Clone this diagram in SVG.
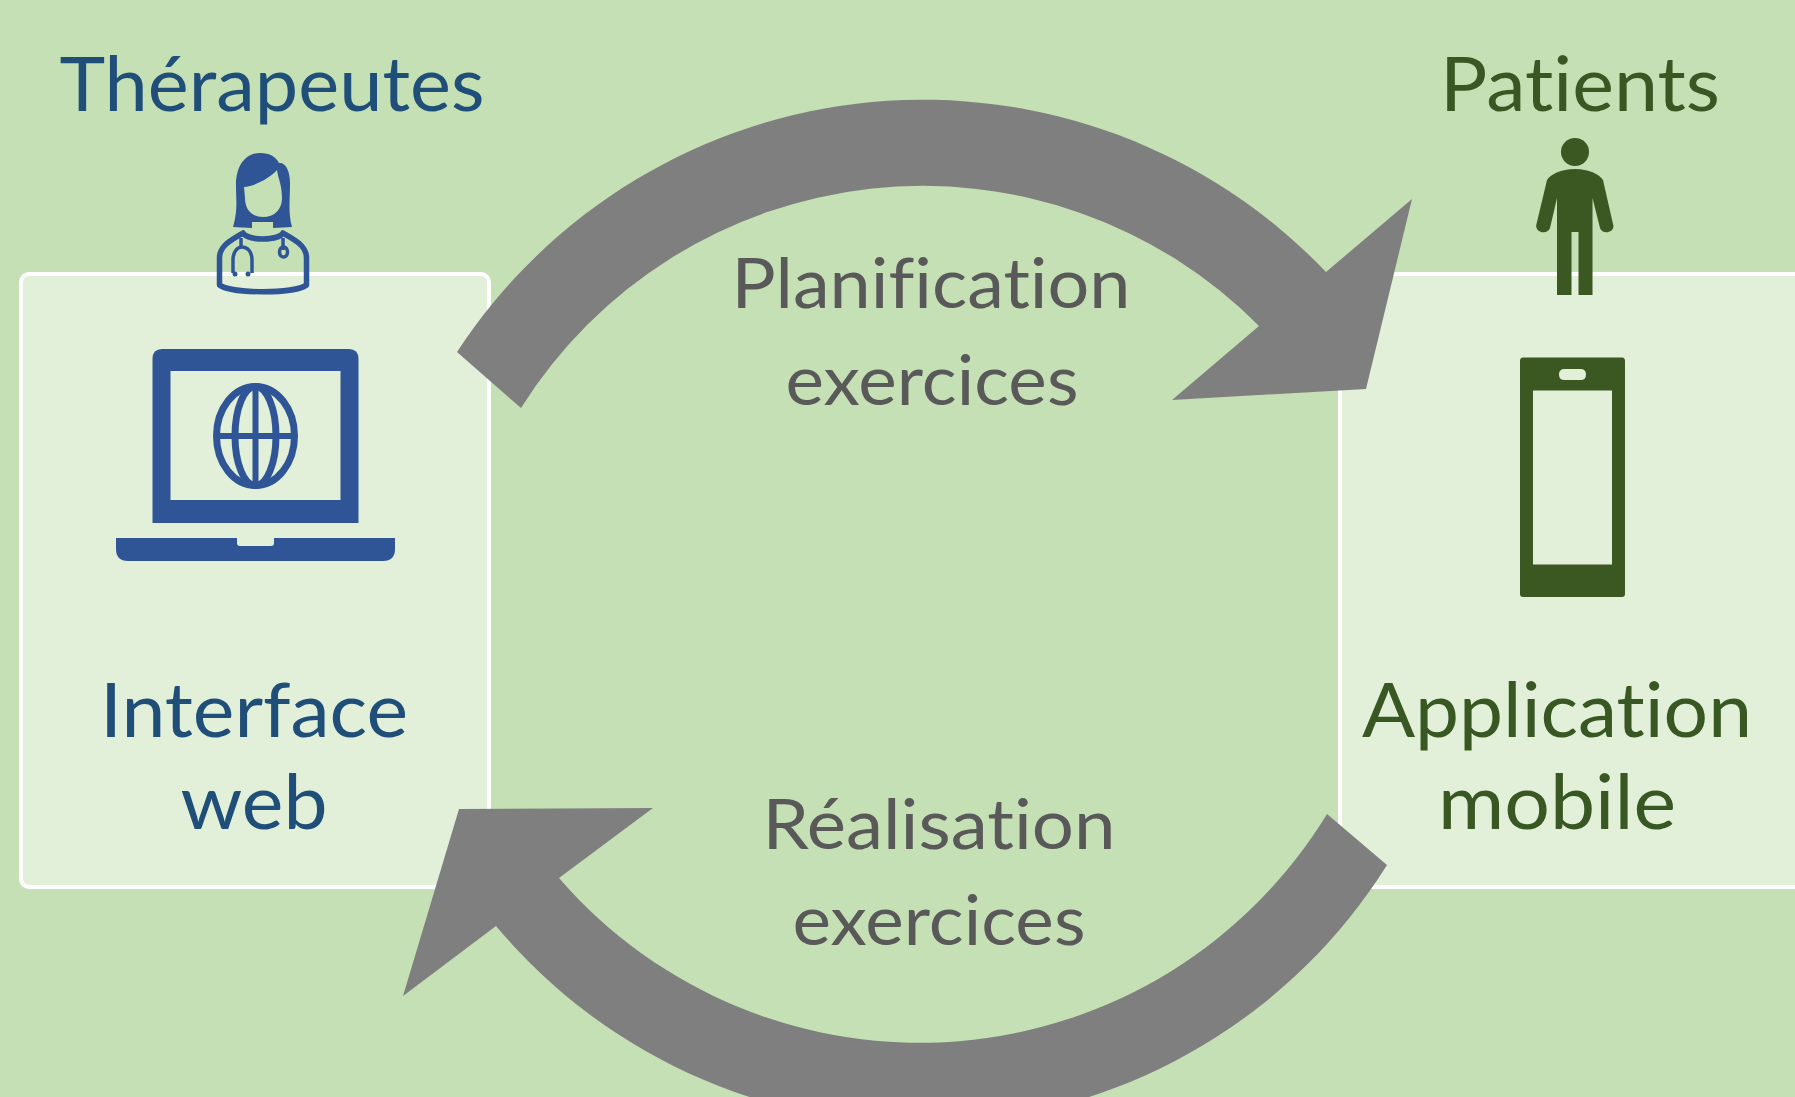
<svg xmlns="http://www.w3.org/2000/svg" width="1795" height="1097" viewBox="0 0 1795 1097">
<style>
.box{fill:#E2F0D9;stroke:#fff;stroke-width:4}
.blue{fill:#2F5597}
.green{fill:#3B5722}
.arrow{fill:#7F7F7F}
text{font-family:"Lato","Liberation Sans",sans-serif;text-anchor:middle;font-variant-ligatures:none;font-feature-settings:"liga" 0,"dlig" 0}
.tb{fill:#1F4E79;font-size:76px}
.tg{fill:#385723;font-size:76px}
.tc{fill:#595959;font-size:70px}
</style>
<rect width="1795" height="1097" fill="#C5E0B4"/>
<g id="therapist-panel">
<rect class="box" x="21" y="274" width="468" height="613" rx="8"/>
<text class="tb" x="272" y="111" textLength="425" lengthAdjust="spacingAndGlyphs">Thérapeutes</text>
<text class="tb" x="254" y="737" textLength="308" lengthAdjust="spacingAndGlyphs">Interface</text>
<text class="tb" x="254" y="829" textLength="147" lengthAdjust="spacingAndGlyphs">web</text>
<g id="doctor">
<path class="blue" fill-rule="evenodd" d="M236 185C236 165 246 153 260 153C270 153 276 157 279 163C285 162 290 170 290 183C290 200 288 213 292 227L273 228L273 222L252 222L252 228L233 227C238 210 236 200 236 185ZM244 187C255 186 270 178 277 170C278 178 282 185 282 198C282 210 274 217 263 217C252 217 245 210 245 198Z"/>
<path d="M219.500 285V258C219.500 245 232 240 243 233C248 241 278 241 283 233C294 240 306.500 245 306.500 258V285C295 294 231 294 219.500 285Z" fill="none" stroke="#2F5597" stroke-width="5.500" stroke-linejoin="round"/>
<path d="M241 238V248M233 273V260C233 251 238 247 242 247C247 247 252 251 252 260V273M283 238V250" fill="none" stroke="#2F5597" stroke-width="3.500"/>
<circle cx="235" cy="274" r="2.500" class="blue"/><circle cx="248" cy="274" r="2.500" class="blue"/>
<ellipse cx="283.500" cy="252" rx="4" ry="5" fill="none" stroke="#2F5597" stroke-width="3.500"/>
</g>
<g id="laptop">
<path class="blue" fill-rule="evenodd" d="M162 349H349Q358.500 349 358.500 359V523H152.500V359Q152.500 349 162 349ZM170.500 371V500H340.500V371Z"/>
<path class="blue" d="M116 538H237V543Q237 546 240 546H271Q274 546 274 543V538H395V549Q395 561 383 561H128Q116 561 116 549Z"/>
<g fill="none" stroke="#2F5597" stroke-width="7">
<ellipse cx="255.500" cy="436" rx="39" ry="49.500"/>
<ellipse cx="255.500" cy="436" rx="20.500" ry="49.500"/>
</g>
<path d="M255.500 386V486M216 436H295" fill="none" stroke="#2F5597" stroke-width="6"/>
</g>
</g>
<g id="patient-panel">
<rect class="box" x="1340" y="274" width="470" height="613" rx="8"/>
<text class="tg" x="1580" y="111" textLength="280" lengthAdjust="spacingAndGlyphs">Patients</text>
<text class="tg" x="1557" y="737" textLength="390" lengthAdjust="spacingAndGlyphs">Application</text>
<text class="tg" x="1557" y="829" textLength="238" lengthAdjust="spacingAndGlyphs">mobile</text>
<g id="person">
<circle class="green" cx="1575" cy="152" r="14"/>
<path class="green" d="M1575 169C1561 169 1551 174 1547 180L1536.500 224C1534 232 1547 236 1550 228L1557 198V295H1571.500V232H1578.500V295H1592.500V198L1600 228C1603 236 1616 232 1613 224L1603 180C1599 174 1589 169 1575 169Z"/>
</g>
<g id="phone">
<path class="green" fill-rule="evenodd" d="M1523 357.500H1622Q1625 357.500 1625 361V594Q1625 597 1622 597H1523Q1520 597 1520 594V361Q1520 357.500 1523 357.500ZM1533 390.500V564.500H1612V390.500ZM1564.500 369Q1559 369 1559 374.500Q1559 380 1564.500 380H1580.500Q1586 380 1586 374.500Q1586 369 1580.500 369Z"/>
</g>
</g>
<g id="connectors">
<path class="arrow" d="M457 352A557 557 0 0 1 1326 272L1412 199L1366 389L1172 400L1259 326A474 474 0 0 0 521 408Z"/>
<path class="arrow" d="M1327 814A477 477 0 0 1 559 878L653 808L459 809L403 996L496 926A552 552 0 0 0 1387 865Z"/>
</g>
<g id="labels">
<text class="tc" x="931" y="308" textLength="399" lengthAdjust="spacingAndGlyphs">Planification</text>
<text class="tc" x="932" y="405" textLength="293" lengthAdjust="spacingAndGlyphs">exercices</text>
<text class="tc" x="939" y="849" textLength="353" lengthAdjust="spacingAndGlyphs">Réalisation</text>
<text class="tc" x="939" y="945" textLength="293" lengthAdjust="spacingAndGlyphs">exercices</text>
</g>
</svg>
